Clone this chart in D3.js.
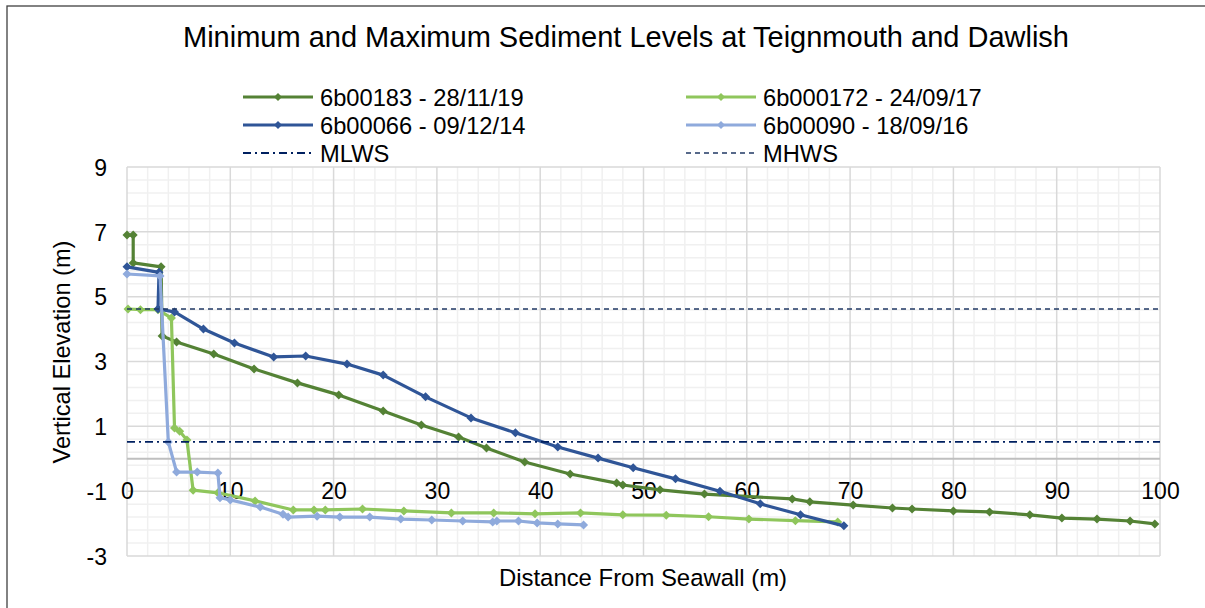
<!DOCTYPE html>
<html><head><meta charset="utf-8">
<script src="https://cdn.jsdelivr.net/npm/d3@7"></script>
<style>html,body{margin:0;padding:0;background:#fff;}svg{display:block;font-family:"Liberation Sans",Arial,sans-serif;}</style>
</head><body><svg id="c" width="1205" height="608"></svg>
<script>
const title = "Minimum and Maximum Sediment Levels at Teignmouth and Dawlish";
const xTitle = "Distance From Seawall (m)";
const yTitle = "Vertical Elevation (m)";
const xTicks = [0,10,20,30,40,50,60,70,80,90,100];
const yTicks = [-3,-1,1,3,5,7,9];

const s183 = [[0,6.9],[0.6,6.9],[0.6,6.04],[3.3,5.92],[3.4,3.79],[4.8,3.6],[8.4,3.23],[12.3,2.77],[16.5,2.34],[20.5,1.97],[24.8,1.47],[28.5,1.04],[32.1,0.67],[34.8,0.33],[38.5,-0.1],[42.9,-0.47],[47.4,-0.75],[48.0,-0.81],[51.6,-0.96],[55.9,-1.09],[64.4,-1.24],[66.1,-1.33],[70.3,-1.43],[74.1,-1.52],[76.0,-1.55],[80.0,-1.61],[83.5,-1.64],[87.4,-1.73],[90.5,-1.83],[93.9,-1.86],[97.1,-1.92],[99.5,-2.01]];
const s172 = [[0.1,4.62],[1.3,4.6],[3.0,4.6],[4.3,4.34],[4.6,0.95],[5.1,0.85],[5.8,0.58],[6.4,-0.97],[8.8,-1.05],[12.4,-1.3],[16.1,-1.58],[18.1,-1.58],[19.2,-1.58],[22.8,-1.55],[26.8,-1.61],[31.4,-1.67],[35.5,-1.67],[39.5,-1.7],[43.9,-1.67],[48.0,-1.73],[52.2,-1.74],[56.3,-1.79],[60.2,-1.86],[64.7,-1.91],[68.8,-1.95]];
const s066 = [[0,5.92],[3.1,5.75],[3.0,4.62],[4.6,4.53],[7.4,4.0],[10.4,3.57],[14.2,3.14],[17.3,3.17],[21.3,2.92],[24.8,2.58],[28.9,1.91],[33.3,1.26],[37.6,0.8],[41.7,0.36],[45.6,0.02],[49.0,-0.28],[53.1,-0.62],[57.4,-1.0],[61.3,-1.39],[65.2,-1.73],[69.4,-2.07]];
const s090 = [[0,5.7],[3.2,5.64],[4.0,0.52],[4.8,-0.41],[6.8,-0.41],[8.8,-0.44],[9.0,-1.2],[10.0,-1.27],[12.9,-1.49],[15.1,-1.71],[15.6,-1.8],[18.4,-1.77],[20.6,-1.8],[23.5,-1.8],[26.5,-1.86],[29.5,-1.89],[32.5,-1.92],[35.4,-1.95],[35.8,-1.92],[37.9,-1.92],[39.7,-1.98],[41.7,-2.01],[44.2,-2.04]];
const mlws = [[0,0.52],[100,0.52]];
const mhws = [[0,4.62],[100,4.62]];

const seriesNames = ["6b00183 - 28/11/19","6b000172 - 24/09/17","6b00066 - 09/12/14","6b00090 - 18/09/16","MLWS","MHWS"];
const seriesData = [s183, s172, s066, s090, mlws, mhws];
const seriesColors = ["#548235","#8fc65c","#2f5597","#8faadc","#002060","#203864"];

const svg = d3.select("#c");
const L = 127, R = 1160, T = 167, B = 556;
const x = d3.scaleLinear().domain([0,100]).range([L,R]);
const y = d3.scaleLinear().domain([-3,9]).range([B,T]);

// border
svg.append("rect").attr("x",7).attr("y",6).attr("width",1210).attr("height",620)
  .attr("fill","#fff").attr("stroke","#404040").attr("stroke-width",1.3);

// grid
const g = svg.append("g");
const minorX = d3.range(0,100.01,2).filter(v=>v%10!==0);
const minorY = d3.range(-3,9.001,0.4).map(v=>+v.toFixed(2)).filter(v=>Math.abs(((v+3)/2)-Math.round((v+3)/2))>0.01);
g.selectAll(".mx").data(minorX).enter().append("line").attr("x1",d=>x(d)).attr("x2",d=>x(d)).attr("y1",T).attr("y2",B).attr("stroke","#f0f0f0").attr("stroke-width",1.5);
g.selectAll(".my").data(minorY).enter().append("line").attr("y1",d=>y(d)).attr("y2",d=>y(d)).attr("x1",L).attr("x2",R).attr("stroke","#f0f0f0").attr("stroke-width",1.5);
g.selectAll(".Mx").data(xTicks).enter().append("line").attr("x1",d=>x(d)).attr("x2",d=>x(d)).attr("y1",T).attr("y2",B).attr("stroke","#d9d9d9").attr("stroke-width",1.5);
g.selectAll(".My").data(yTicks).enter().append("line").attr("y1",d=>y(d)).attr("y2",d=>y(d)).attr("x1",L).attr("x2",R).attr("stroke","#d9d9d9").attr("stroke-width",1.5);
g.append("line").attr("x1",L).attr("x2",R).attr("y1",y(0)).attr("y2",y(0)).attr("stroke","#bfbfbf").attr("stroke-width",2);

// axes tick labels
const fmt = d => String(d);
const xAxis = d3.axisBottom(x).tickValues(xTicks).tickFormat(fmt).tickSize(0).tickPadding(0);
const xa = svg.append("g").attr("transform",`translate(0,${y(0)})`).call(xAxis);
xa.select(".domain").remove();
xa.selectAll("text").attr("font-size",23).attr("fill","#000").attr("font-family","Liberation Sans, Arial, sans-serif").attr("dy",null).attr("y",40);
const yAxis = d3.axisLeft(y).tickValues(yTicks).tickFormat(fmt).tickSize(0).tickPadding(0);
const ya = svg.append("g").attr("transform",`translate(107,0)`).call(yAxis);
ya.select(".domain").remove();
ya.selectAll("text").attr("font-size",23).attr("fill","#000").attr("font-family","Liberation Sans, Arial, sans-serif").attr("dy","0.36em").attr("x",0);

// lines
const line = d3.line().x(d=>x(d[0])).y(d=>y(d[1]));
const diamond = r => `M0,${-r}L${r},0L0,${r}L${-r},0Z`;
seriesData.forEach((data,i)=>{
  const p = svg.append("path").datum(data).attr("d",line).attr("fill","none").attr("stroke",seriesColors[i]);
  if(i<4){
    p.attr("stroke-width",3.2).attr("stroke-linejoin","round");
    svg.append("g").selectAll("path").data(data).enter().append("path")
      .attr("d",diamond(4.5)).attr("transform",d=>`translate(${x(d[0])},${y(d[1])})`).attr("fill",seriesColors[i]);
  } else if(i===4){
    p.attr("stroke-width",1.8).attr("stroke-dasharray","8,4,2,4");
  } else {
    p.attr("stroke-width",1.5).attr("stroke-dasharray","5,4");
  }
});

// legend
const legX = [243,686], legY = [97,125,153];
seriesNames.forEach((n,i)=>{
  const cx = legX[i%2], cy = legY[Math.floor(i/2)];
  const lg = svg.append("g");
  const ln = lg.append("line").attr("x1",cx).attr("x2",cx+70).attr("y1",cy).attr("y2",cy).attr("stroke",seriesColors[i]);
  if(i<4){
    ln.attr("stroke-width",3.2);
    lg.append("path").attr("d",diamond(4)).attr("transform",`translate(${cx+35},${cy})`).attr("fill",seriesColors[i]);
  } else if(i===4){ ln.attr("stroke-width",1.8).attr("stroke-dasharray","8,4,2,4"); }
  else { ln.attr("stroke-width",1.5).attr("stroke-dasharray","5,4"); }
  lg.append("text").attr("x",cx+77).attr("y",cy).attr("dy","0.36em").attr("font-size",23.7).text(n);
});

// titles
svg.append("text").attr("x",626).attr("y",47).attr("text-anchor","middle").attr("font-size",29).text(title);
svg.append("text").attr("x",643).attr("y",586).attr("text-anchor","middle").attr("font-size",23.9).text(xTitle);
svg.append("text").attr("transform","translate(70,352) rotate(-90)").attr("text-anchor","middle").attr("font-size",23.6).text(yTitle);
</script></body></html>
